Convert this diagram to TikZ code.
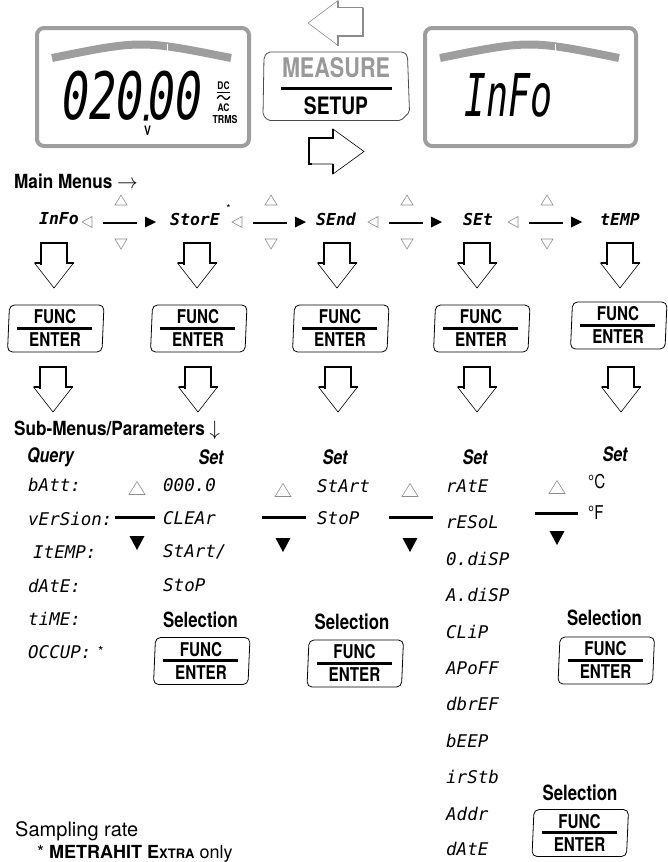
\documentclass[tikz,border=0pt]{standalone}
\usepackage{fontspec}
\usepackage{graphicx}
\setmainfont{TeX Gyre Heros}
\newfontfamily\cnd[FakeStretch=0.8]{TeX Gyre Heros}
\newfontfamily\cndw[FakeStretch=0.88]{TeX Gyre Heros}
\newfontfamily\seg{DejaVu Sans Mono}
\definecolor{lcdgray}{gray}{0.62}
\definecolor{trigray}{gray}{0.55}
\newcommand\funcbutton[3]{%
  \draw[line width=0.8pt, rounded corners=5pt] ({#2-45.5},{#3-23.5}) -- ({#2+49},{#3-23.5}) -- ({#2+47},{#3+23.5}) -- ({#2-47.5},{#3+23.5}) -- cycle;
  \node[btn] (#1f) at ({#2},{#3-11.5}) {FUNC};
  \draw[line width=3pt] ({#2-38},{#3-0.5}) -- ({#2+37},{#3-0.5});
  \node[btn] (#1e) at ({#2},{#3+11.5}) {ENTER};
}
\begin{document}
\begin{tikzpicture}[x=1pt,y=-1pt, line join=miter,
  lab/.style={inner sep=0pt},
  hd/.style={font=\cndw\bfseries\fontsize{19.5}{19.5}\selectfont, inner sep=0pt},
  hdi/.style={font=\cnd\bfseries\itshape\fontsize{20}{20}\selectfont, inner sep=0pt},
  btn/.style={font=\cnd\bfseries\fontsize{19}{19}\selectfont, inner sep=0pt},
  sel/.style={font=\cnd\bfseries\fontsize{21}{21}\selectfont, inner sep=0pt},
  deg/.style={font=\cnd\fontsize{19}{19}\selectfont, inner sep=0pt, anchor=west},
  mainseg/.style={font=\seg\bfseries\itshape\fontsize{16.5}{16.5}\selectfont, inner sep=0pt},
  subseg/.style={font=\seg\itshape\fontsize{17.5}{17.5}\selectfont, inner sep=0pt, anchor=west},
  lcd/.style={draw=lcdgray, line width=4pt, rounded corners=7pt},
  lcdbar/.style={draw=lcdgray, line width=8pt},
  hollowtri/.style={draw=trigray, line width=0.6pt, fill=white},
  navline/.style={line width=2.6pt},
  subline/.style={line width=3pt},
  uptri/.pic={\draw[hollowtri] (-6,5) -- (6,5) -- (0,-5) -- cycle;},
  dntri/.pic={\draw[hollowtri] (-6,-5) -- (6,-5) -- (0,5) -- cycle;},
  lefttri/.pic={\draw[hollowtri] (5,-5.5) -- (5,5.5) -- (-5,0) -- cycle;},
  rightsolid/.pic={\fill (-5,-5.5) -- (-5,5.5) -- (6,0) -- cycle;},
  bigup/.pic={\draw[hollowtri] (-8,6.5) -- (8,6.5) -- (0,-6.5) -- cycle;},
  bigdn/.pic={\fill (-7.5,-7) -- (7.5,-7) -- (0,7) -- cycle;},
  dnarrow/.pic={
    \draw[line width=0.6pt] (-13,20) -- (-13,0) -- (13,0) -- (13,20) -- (19.5,20) -- (0,45) -- (-19.5,20) -- cycle;
    \draw[line width=2.6pt] (-13,22) -- (-13,0) -- (13,0) -- (13,20) -- (19.5,20);
    \draw[line width=2.6pt] (-19.5,20) -- (-13,20);
  },
]
\useasboundingbox (0,0) rectangle (668,862);

% ---------- left LCD ----------
\draw[lcd] (37,28) rectangle (249,146);
\draw[lcdbar] (52,58) .. controls (141,40) .. (231,58);
\draw[white, line width=0.8pt] (167,44) -- (167,57);
\node[lab, anchor=south west] (dig1) at (62,120.5) {\resizebox{82pt}{48.5pt}{\seg\itshape 020}};
\node[lab, anchor=south west] (dig2) at (148,120.5) {\resizebox{54pt}{48.5pt}{\seg\itshape 00}};
\fill (144.5,114.5) -- (148.5,114.5) -- (147.5,120.5) -- (143.5,120.5) -- cycle;
\node[lab, font=\cnd\bfseries\fontsize{13}{13}\selectfont] (vunit) at (147.5,130.5) {V};
\node[lab, font=\cnd\bfseries\fontsize{10.5}{10.5}\selectfont] (dc) at (223.5,85.5) {DC};
\draw[line width=1.3pt] (217,92.5) -- (230,92.5);
\draw[line width=1.3pt] (217,98.5) .. controls (220,94.5) and (221.5,95) .. (223.5,97.5) .. controls (225.5,100) and (227,100.5) .. (230,96.5);
\node[lab, font=\cnd\bfseries\fontsize{10.5}{10.5}\selectfont] (ac) at (223.5,108) {AC};
\node[lab, font=\cnd\bfseries\fontsize{11}{11}\selectfont] (trms) at (225,119.5) {TRMS};

% ---------- right LCD ----------
\draw[lcd] (425,28) rectangle (636,146);
\draw[lcdbar] (440,58) .. controls (529.5,40) .. (619,58);
\draw[white, line width=0.8pt] (555,44) -- (555,57);
\node[lab, anchor=south west] (info) at (464,118) {\resizebox{88pt}{43pt}{\seg\itshape InFo}};

% ---------- MEASURE / SETUP ----------
\draw[draw=black!70, line width=0.8pt, rounded corners=2pt] (268,52) -- (404,52) -- (407.5,56) -- (409.5,112) -- (401,120.5) -- (268,120.5) -- (263,115) -- (264,57) -- cycle;
\node[lab, font=\cnd\bfseries\fontsize{27}{27}\selectfont, text=black!40] (measure) at (336,68) {MEASURE};
\draw[line width=3pt] (281,88) -- (392,88);
\node[lab, font=\cnd\bfseries\fontsize{24}{24}\selectfont] (setup) at (336,106) {SETUP};

% gray arrow (to MEASURE)
\draw[draw=trigray, line width=0.6pt] (308,23) -- (338,0.5) -- (338,7.5) -- (363,7.5) -- (363,36) -- (338,36) -- (338,45.5) -- cycle;
\draw[draw=trigray, line width=2.6pt] (363,7.5) -- (363,36) -- (338,36) -- (338,45.5);
\draw[draw=trigray, line width=2.6pt] (338,0.5) -- (338,7.5);
% black arrow (to SETUP)
\draw[line width=0.6pt] (309,138) -- (333,138) -- (333,129) -- (364,151.5) -- (333,174) -- (333,164) -- (309,164) -- cycle;
\draw[line width=2.6pt] (333,129) -- (333,138) -- (309,138) -- (309,164) -- (312,164);
\draw[line width=2.6pt] (333,164) -- (333,174);

% ---------- Main menus ----------
\node[hd, anchor=west] (mainmenus) at (14,181) {Main Menus $\rightarrow$};
\node[mainseg] (m1) at (59,219) {InFo};
\node[mainseg] (m2) at (195,219) {StorE};
\node[lab, font=\fontsize{11}{11}\selectfont] (m2star) at (228.5,208) {*};
\node[mainseg] (m3) at (336,219) {SEnd};
\node[mainseg] (m4) at (478,219) {SEt};
\node[mainseg] (m5) at (620,219) {tEMP};
\foreach \c in {121,271,407,547}{
  \pic at (\c,200) {uptri};
  \pic at (\c,244) {dntri};
  \pic at ({\c-34},222) {lefttri};
  \draw[navline] ({\c-18},223) -- ({\c+16},223);
  \pic at ({\c+29},222) {rightsolid};
}
\foreach \c in {54,197,337,477,620}{ \pic at (\c,243) {dnarrow}; }

% ---------- FUNC/ENTER ----------
\funcbutton{b1}{55}{328.5}
\funcbutton{b2}{198}{328.5}
\funcbutton{b3}{340}{328.5}
\funcbutton{b4}{481}{328.5}
\funcbutton{b5}{618}{325.5}
\foreach \c in {53,198,338,477,621}{ \pic at (\c,367) {dnarrow}; }

% ---------- Sub-menus ----------
\node[hd, anchor=west] (submenus) at (14,430) {Sub-Menus/Parameters $\downarrow$};

% column 1
\node[hdi, anchor=west] (query) at (27,457) {Query};
\node[subseg] (q1) at (28,485) {bAtt:};
\node[subseg] (q2) at (28,518.5) {vErSion:};
\node[subseg] (q3) at (33,552) {ItEMP:};
\node[subseg] (q4) at (28,585.5) {dAtE:};
\node[subseg] (q5) at (28,619) {tiME:};
\node[subseg] (q6) at (28,652.5) {OCCUP:};
\node[lab, font=\fontsize{14}{14}\selectfont, anchor=west] (q6star) at (98,651) {*};

% column 2
\node[hdi] (set2) at (211,457) {Set};
\node[subseg] (c2a) at (163,485) {000.0};
\node[subseg] (c2b) at (163,518.5) {CLEAr};
\node[subseg] (c2c) at (163,552) {StArt/};
\node[subseg] (c2d) at (163,585.5) {StoP};
\pic at (137,488) {bigup};
\draw[subline] (115,517) -- (155,517);
\pic at (137,543) {bigdn};
\node[sel] (sel2) at (200.5,620) {Selection};
\funcbutton{b6}{201}{661}

% column 3
\node[hdi] (set3) at (335,457) {Set};
\node[subseg] (c3a) at (317,486) {StArt};
\node[subseg] (c3b) at (317,518) {StoP};
\pic at (283,490) {bigup};
\draw[subline] (262,517) -- (306,517);
\pic at (283,545) {bigdn};
\node[sel] (sel3) at (352,622) {Selection};
\funcbutton{b7}{354.5}{663.5}

% column 4
\node[hdi] (set4) at (475,457) {Set};
\node[subseg] (c4a) at (446,486) {rAtE};
\node[subseg] (c4b) at (446,522.4) {rESoL};
\node[subseg] (c4c) at (446,558.8) {0.diSP};
\node[subseg] (c4d) at (446,595.2) {A.diSP};
\node[subseg] (c4e) at (446,631.6) {CLiP};
\node[subseg] (c4f) at (446,668) {APoFF};
\node[subseg] (c4g) at (446,704.4) {dbrEF};
\node[subseg] (c4h) at (446,740.8) {bEEP};
\node[subseg] (c4i) at (446,777.2) {irStb};
\node[subseg] (c4j) at (446,813.6) {Addr};
\node[subseg] (c4k) at (446,849) {dAtE};
\pic at (410,490) {bigup};
\draw[subline] (389,517) -- (433,517);
\pic at (410,545) {bigdn};
\node[sel] (sel4) at (580,793) {Selection};
\funcbutton{b8}{579.5}{833}

% column 5
\node[hdi] (set5) at (615,454) {Set};
\node[deg] (degc) at (588,482) {°C};
\node[deg] (degf) at (588,513) {°F};
\pic at (557,487) {bigup};
\draw[subline] (535,513) -- (578,513);
\pic at (557,538) {bigdn};
\node[sel] (sel5) at (604.5,618) {Selection};
\funcbutton{b9}{605.5}{660.5}

% ---------- footnotes ----------
\node[lab, anchor=base west, font=\fontsize{20}{20}\selectfont] (sampling) at (15,836) {Sampling rate};
\node[lab, anchor=base west, font=\fontsize{18}{18}\selectfont] (footnote) at (37,858) {* \textbf{METRAHIT E{\fontsize{13}{13}\selectfont XTRA}} only};
\end{tikzpicture}
\end{document}
